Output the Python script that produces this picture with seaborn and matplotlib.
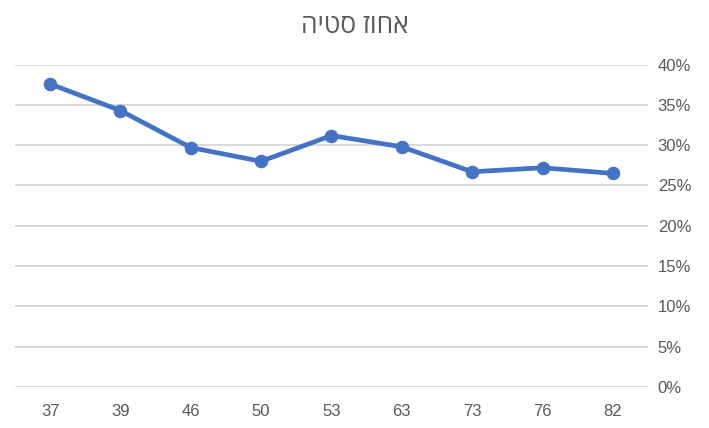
import matplotlib
matplotlib.use("Agg")
import matplotlib.pyplot as plt
import seaborn as sns
from matplotlib.ticker import PercentFormatter

# Chart data
categories = ["37", "39", "46", "50", "53", "63", "73", "76", "82"]
deviation = [0.376, 0.343, 0.297, 0.280, 0.312, 0.298, 0.267, 0.272, 0.265]
title = "אחוז סטיה"

sns.set_theme(style="white")
plt.rcParams["font.family"] = ["Liberation Sans", "DejaVu Sans"]

text_color = "#595959"
grid_color = "#D9D9D9"
line_color = "#4472C4"

fig = plt.figure(figsize=(7.09, 4.28), dpi=100)
ax = fig.add_axes([0.021, 0.096, 0.893, 0.753])

sns.lineplot(x=categories, y=deviation, ax=ax, color=line_color, linewidth=3.4,
             marker="o", markersize=9, markeredgecolor=line_color, sort=False)

ax.set_xlim(-0.5, len(categories) - 0.5)
ax.set_ylim(0, 0.40)
ax.set_yticks([i * 0.05 for i in range(9)])
ax.yaxis.set_major_formatter(PercentFormatter(1.0, decimals=0))
ax.yaxis.tick_right()
ax.grid(axis="y", color=grid_color, linewidth=1.4)
ax.set_axisbelow(True)
for s in ax.spines.values():
    s.set_visible(False)
ax.tick_params(axis="both", length=0, labelsize=12, colors=text_color)
ax.tick_params(axis="y", pad=7)
ax.tick_params(axis="x", pad=12)
ax.set_xlabel("")
ax.set_ylabel("")

# matplotlib draws left to right, so reverse the Hebrew string for display
fig.text(0.5, 0.937, title[::-1], ha="center", va="center", fontsize=19,
         color=text_color, family=["Open Sans", "DejaVu Sans"])

fig.savefig("out.png", dpi=100)
